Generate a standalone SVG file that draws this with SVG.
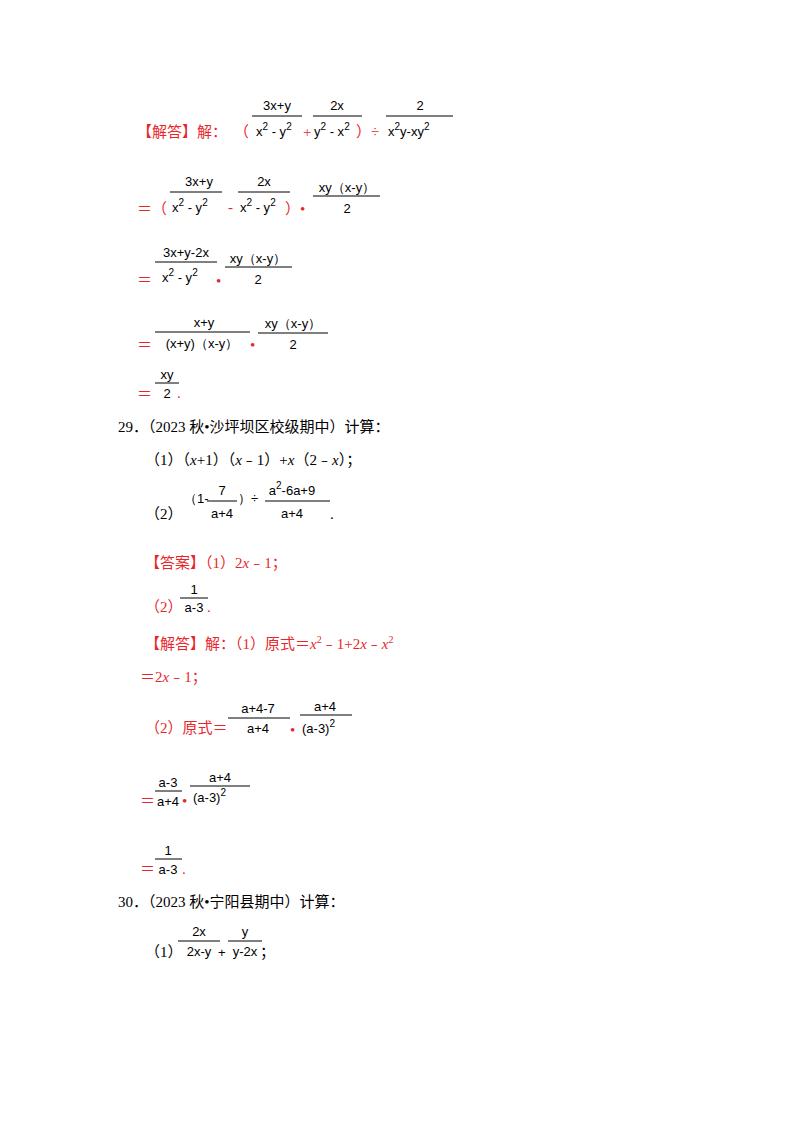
<svg xmlns="http://www.w3.org/2000/svg" width="800" height="1132" viewBox="0 0 800 1132">
<style>
text{font-family:"Liberation Serif","Noto Sans CJK SC",serif;font-size:15px;fill:#000}
.r{fill:#e8262a}
.m{font-family:"Liberation Sans","DejaVu Sans",sans-serif;font-size:13px}
.c{text-anchor:middle}
.i{font-style:italic}
line{stroke:#000;stroke-width:1}
</style>
<rect width="800" height="1132" fill="#fff"/>
<g id="s1">
<text x="137" y="137" class="r">【解答】解：</text>
<text x="234" y="137" class="r">（</text>
<text x="277" y="110" class="m c">3x+y</text><line x1="252" y1="116" x2="302" y2="116"/>
<text x="256" y="136" class="m">x<tspan dy="-6" font-size="10">2</tspan><tspan dy="6"> - y</tspan><tspan dy="-6" font-size="10">2</tspan></text>
<text x="303" y="137" class="r">+</text>
<text x="337" y="110" class="m c">2x</text><line x1="313" y1="116" x2="362" y2="116"/>
<text x="314" y="136" class="m">y<tspan dy="-6" font-size="10">2</tspan><tspan dy="6"> - x</tspan><tspan dy="-6" font-size="10">2</tspan></text>
<text x="356" y="137" class="r">）÷</text>
<text x="420" y="110" class="m c">2</text><line x1="386" y1="116" x2="453" y2="116"/>
<text x="388" y="136" class="m">x<tspan dy="-6" font-size="10">2</tspan><tspan dy="6">y-xy</tspan><tspan dy="-6" font-size="10">2</tspan></text>

<text x="137" y="214" class="r">＝（</text>
<text x="199" y="186" class="m c">3x+y</text><line x1="170" y1="192" x2="222" y2="192"/>
<text x="172" y="212" class="m">x<tspan dy="-6" font-size="10">2</tspan><tspan dy="6"> - y</tspan><tspan dy="-6" font-size="10">2</tspan></text>
<text x="228" y="212" class="r">-</text>
<text x="264" y="186" class="m c">2x</text><line x1="238" y1="192" x2="290" y2="192"/>
<text x="240" y="212" class="m">x<tspan dy="-6" font-size="10">2</tspan><tspan dy="6"> - y</tspan><tspan dy="-6" font-size="10">2</tspan></text>
<text x="285" y="214" class="r">）•</text>
<text x="347" y="192" class="m c">xy（x-y）</text><line x1="313" y1="196" x2="380" y2="196"/>
<text x="347" y="213" class="m c">2</text>

<text x="137" y="285" class="r">＝</text>
<text x="186" y="257" class="m c">3x+y-2x</text><line x1="155" y1="262" x2="217" y2="262"/>
<text x="162" y="282" class="m">x<tspan dy="-6" font-size="10">2</tspan><tspan dy="6"> - y</tspan><tspan dy="-6" font-size="10">2</tspan></text>
<text x="216" y="286" class="r">•</text>
<text x="258" y="263" class="m c">xy（x-y）</text><line x1="225" y1="267" x2="292" y2="267"/>
<text x="258" y="284" class="m c">2</text>

<text x="137" y="350" class="r">＝</text>
<text x="204" y="327" class="m c">x+y</text><line x1="155" y1="332" x2="250" y2="332"/>
<text x="202" y="348" class="m c">(x+y)（x-y）</text>
<text x="250" y="350" class="r">•</text>
<text x="293" y="328" class="m c">xy（x-y）</text><line x1="258" y1="333" x2="328" y2="333"/>
<text x="293" y="349" class="m c">2</text>

<text x="137" y="399" class="r">＝</text>
<text x="167" y="379" class="m c">xy</text><line x1="155" y1="383" x2="179" y2="383"/>
<text x="167" y="398" class="m c">2</text>
<text x="177" y="398" class="r">.</text>
</g>
<g id="q29">
<text x="118" y="432">29．（2023 秋•沙坪坝区校级期中）计算：</text>
<text x="145" y="465">（1）（<tspan class="i">x</tspan>+1）（<tspan class="i">x</tspan>﹣1）+<tspan class="i">x</tspan>（2﹣<tspan class="i">x</tspan>）；</text>
<text x="145" y="519">（2）</text>
<text x="184" y="503" class="m">（1-</text>
<text x="222" y="495" class="m c">7</text><line x1="207" y1="501" x2="237" y2="501"/>
<text x="222" y="518" class="m c">a+4</text>
<text x="238" y="503" class="m">）÷</text>
<text x="292" y="495" class="m c">a<tspan dy="-6" font-size="10">2</tspan><tspan dy="6">-6a+9</tspan></text><line x1="265" y1="501" x2="330" y2="501"/>
<text x="292" y="518" class="m c">a+4</text>
<text x="330" y="519">.</text>

<text x="145" y="568" class="r">【答案】（1）2<tspan class="i">x</tspan>﹣1；</text>
<text x="145" y="612" class="r">（2）</text>
<text x="194" y="594" class="m c">1</text><line x1="180" y1="598" x2="208" y2="598"/>
<text x="194" y="612" class="m c">a-3</text>
<text x="207" y="612" class="r">.</text>

<text x="145" y="649" class="r">【解答】解：（1）原式＝<tspan class="i">x</tspan><tspan dy="-6" font-size="10">2</tspan><tspan dy="6">﹣1+2</tspan><tspan class="i">x</tspan>﹣<tspan class="i">x</tspan><tspan dy="-6" font-size="10">2</tspan></text>
<text x="140" y="682" class="r">＝2<tspan class="i">x</tspan>﹣1；</text>
<text x="145" y="733" class="r">（2）原式＝</text>
<text x="258" y="713" class="m c">a+4-7</text><line x1="228" y1="718" x2="290" y2="718"/>
<text x="258" y="733" class="m c">a+4</text>
<text x="290" y="735" class="r">•</text>
<text x="325" y="711" class="m c">a+4</text><line x1="300" y1="715" x2="352" y2="715"/>
<text x="302" y="733" class="m">(a-3)<tspan dy="-6" font-size="10">2</tspan></text>

<text x="140" y="806" class="r">＝</text>
<text x="168" y="787" class="m c">a-3</text><line x1="155" y1="791" x2="182" y2="791"/>
<text x="168" y="806" class="m c">a+4</text>
<text x="182" y="806" class="r">•</text>
<text x="220" y="782" class="m c">a+4</text><line x1="190" y1="786" x2="250" y2="786"/>
<text x="193" y="802" class="m">(a-3)<tspan dy="-6" font-size="10">2</tspan></text>

<text x="140" y="874" class="r">＝</text>
<text x="168" y="855" class="m c">1</text><line x1="155" y1="859" x2="182" y2="859"/>
<text x="168" y="874" class="m c">a-3</text>
<text x="182" y="874" class="r">.</text>
</g>
<g id="q30">
<text x="118" y="907">30．（2023 秋•宁阳县期中）计算：</text>
<text x="145" y="957">（1）</text>
<text x="199" y="936" class="m c">2x</text><line x1="178" y1="941" x2="220" y2="941"/>
<text x="199" y="956" class="m c">2x-y</text>
<text x="218" y="957" class="m">+</text>
<text x="245" y="936" class="m c">y</text><line x1="228" y1="941" x2="262" y2="941"/>
<text x="245" y="956" class="m c">y-2x</text>
<text x="260" y="957">；</text>
</g>
</svg>
